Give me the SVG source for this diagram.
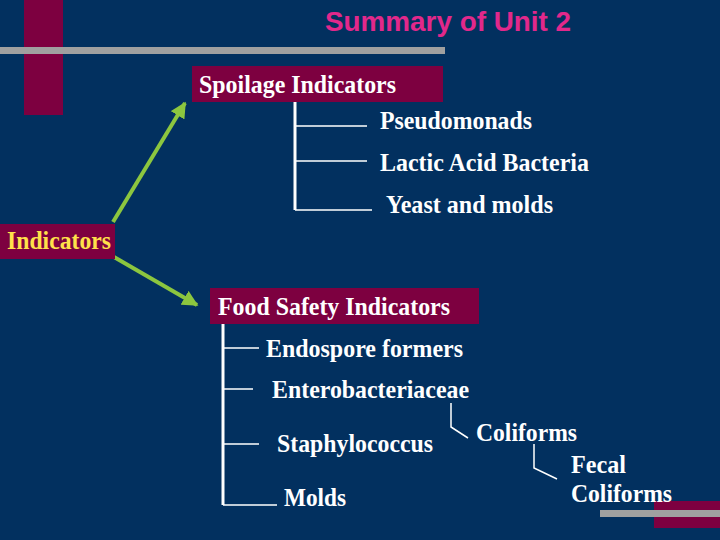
<svg xmlns="http://www.w3.org/2000/svg" width="720" height="540" viewBox="0 0 720 540">
<defs>
<style>
.t{font-family:"Liberation Serif","Times New Roman",serif;font-weight:bold;font-size:26px;fill:#ffffff}
.y{fill:#ffe14a}
.box{fill:#7d0040}
.tree{stroke:#ffffff;fill:none}
.v{stroke-width:3}
.h{stroke-width:1.5}
.arr{stroke:#8cc63f;stroke-width:4;fill:none;marker-end:url(#ah)}
</style>
<marker id="ah" viewBox="0 0 10 10" refX="9" refY="5" markerWidth="4" markerHeight="4" orient="auto" markerUnits="strokeWidth">
<path d="M0,0 L10,5 L0,10 z" fill="#8cc63f"/>
</marker>
</defs>
<rect width="720" height="540" fill="#02305f"/>
<g id="decor">
<rect x="24" y="0" width="39" height="115" fill="#7d0040"/>
<rect x="0" y="47" width="445" height="7" fill="#a0a0a0"/>
<rect x="654" y="501" width="66" height="27" fill="#7d0040"/>
<rect x="600" y="510" width="120" height="7" fill="#a0a0a0"/>
</g>
<g id="title">
<text x="325" y="31" font-family="Liberation Sans, Arial, sans-serif" font-weight="bold" font-size="27" fill="#e2288b" textLength="246" lengthAdjust="spacingAndGlyphs">Summary of Unit 2</text>
</g>
<g id="connectors">
<line class="arr" x1="113" y1="222" x2="185" y2="103"/>
<line class="arr" x1="114" y1="257" x2="197" y2="305"/>
<path class="tree v" d="M295,102 V210"/>
<path class="tree h" d="M295,126 H367 M295,161 H367 M295,210 H372"/>
<path class="tree v" d="M223,318 V505"/>
<path class="tree h" d="M223,348 H259 M223,389 H253 M223,444 H259 M223,505 H277"/>
<path class="tree h" d="M451,403 V427 L468,438"/>
<path class="tree h" d="M534,444 V468 L557,479"/>
</g>
<g id="indicators">
<rect class="box" x="0" y="224" width="115" height="35"/>
<text class="t y" x="7" y="249" textLength="104" lengthAdjust="spacingAndGlyphs">Indicators</text>
</g>
<g id="spoilage">
<rect class="box" x="192" y="66" width="251" height="36"/>
<text class="t" x="199" y="93" textLength="197" lengthAdjust="spacingAndGlyphs">Spoilage Indicators</text>
</g>
<g id="pseudomonads"><text class="t" x="380" y="129" textLength="152" lengthAdjust="spacingAndGlyphs">Pseudomonads</text></g>
<g id="lab"><text class="t" x="380" y="171" textLength="209" lengthAdjust="spacingAndGlyphs">Lactic Acid Bacteria</text></g>
<g id="yeast"><text class="t" x="386" y="213" textLength="167" lengthAdjust="spacingAndGlyphs">Yeast and molds</text></g>
<g id="foodsafety">
<rect class="box" x="210" y="288" width="269" height="36"/>
<text class="t" x="218" y="315" textLength="232" lengthAdjust="spacingAndGlyphs">Food Safety Indicators</text>
</g>
<g id="endospore"><text class="t" x="266" y="357" textLength="197" lengthAdjust="spacingAndGlyphs">Endospore formers</text></g>
<g id="entero"><text class="t" x="272" y="398" textLength="197" lengthAdjust="spacingAndGlyphs">Enterobacteriaceae</text></g>
<g id="staph"><text class="t" x="277" y="452" textLength="156" lengthAdjust="spacingAndGlyphs">Staphylococcus</text></g>
<g id="molds"><text class="t" x="284" y="506" textLength="62" lengthAdjust="spacingAndGlyphs">Molds</text></g>
<g id="coliforms"><text class="t" x="476" y="441" textLength="101" lengthAdjust="spacingAndGlyphs">Coliforms</text></g>
<g id="fecal">
<text class="t" x="571" y="473" textLength="55" lengthAdjust="spacingAndGlyphs">Fecal</text>
<text class="t" x="571" y="502" textLength="101" lengthAdjust="spacingAndGlyphs">Coliforms</text>
</g>
</svg>
